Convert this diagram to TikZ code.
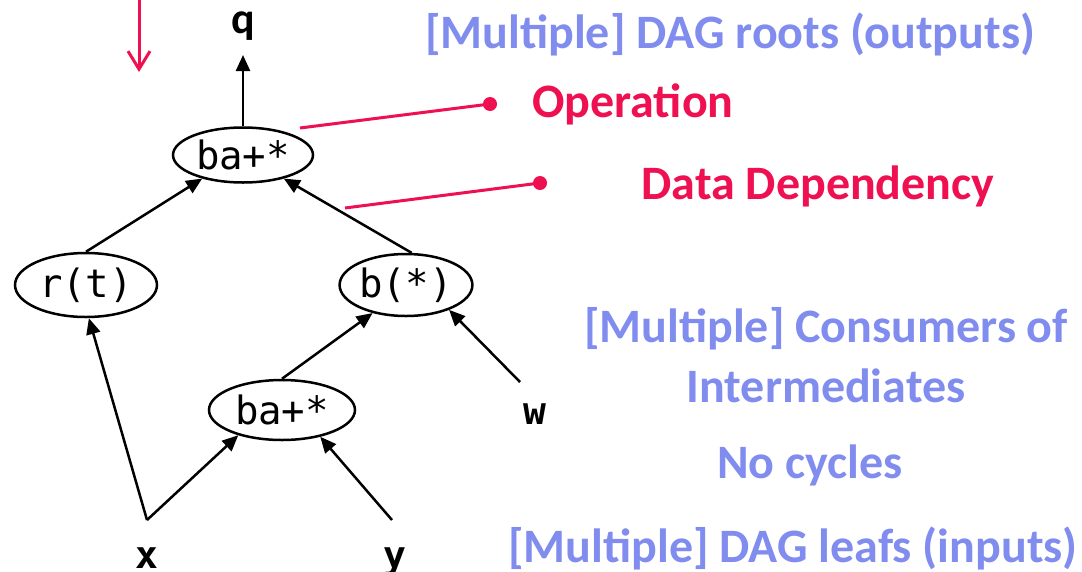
\documentclass[tikz,border=0pt]{standalone}
\usepackage{fontspec}
\setmainfont{Carlito}
\newfontfamily\opfont{DejaVu Sans Mono}
\usepackage{tikz}
\usetikzlibrary{arrows.meta,shapes.geometric}
\definecolor{hotred}{RGB}{238,16,80}
\definecolor{softblue}{RGB}{128,140,238}

\begin{document}
\begin{tikzpicture}[x=1pt, y=-1pt, line width=2.5pt, >={Triangle[length=16pt,width=14pt]},
  op/.style={draw, ellipse, inner sep=0pt, font=\opfont\fontsize{39}{39}\selectfont},
  leaf/.style={font=\opfont\bfseries\fontsize{38}{38}\selectfont},
  note/.style={font=\bfseries\fontsize{48}{48}\selectfont, text=softblue},
  cmt/.style={font=\bfseries\fontsize{48}{48}\selectfont, text=hotred},
  pin/.style={draw=hotred, line width=3pt}]
\useasboundingbox (0,0) rectangle (1082,571);
\node[op, minimum width=140pt, minimum height=55pt] (top)  at (243,155) {ba+*};
\node[op, minimum width=142pt, minimum height=64pt] (rt)   at (86,285)  {r(t)};
\node[op, minimum width=116pt, minimum height=62pt] (bs)   at (406,285) {b(*)};
\node[op, minimum width=146pt, minimum height=60pt] (low)  at (282,410) {ba+*};
\node[font=\bfseries\fontsize{44}{44}\selectfont] (q) at (243,26) {q};
\coordinate (qend) at (243,55);
\coordinate (xj) at (147,520);
\coordinate (yj) at (392,520);
\coordinate (wj) at (520,382);
\node[leaf] (x) at (147,558) {x};
\node[leaf] (y) at (395,562) {y};
\node[leaf] (w) at (535,414) {w};
% edges of the DAG
\draw[->] (top.north) -- (qend);
\draw[->] (rt.north) -- (top.210);
\draw[->] (bs.80) -- (top.-30);
\draw[->] (low.north) -- (bs.220);
\draw[->] (wj) -- (bs.-30);
\draw[->] (xj) -- (rt.-85);
\draw[->] (xj) -- (low.210);
\draw[->] (yj) -- (low.-35);
% red marker arrow
\coordinate (mtop) at (139,0);
\coordinate (mbot) at (139,72);
\draw[hotred, line width=3pt, -{Straight Barb[length=18pt,width=22pt]}] (mtop) -- (mbot);
% callouts
\coordinate (opdot) at (490,104);
\coordinate (dddot) at (540,183);
\coordinate (opfrom) at (300,128);
\coordinate (ddfrom) at (345,208);
\draw[pin] (opfrom) -- (opdot);
\draw[pin] (ddfrom) -- (dddot);
\fill[hotred] (opdot) circle (7pt);
\fill[hotred] (dddot) circle (7pt);
\node[cmt] (opn) at (633,104) {Operation};
\node[cmt] (dep) at (818,186) {Data Dependency};
\node[note] (roots) at (730,34) {[Multiple] DAG roots (outputs)};
\node[note] (cons) at (826,329) {[Multiple] Consumers of};
\node[note] (inter) at (826,386) {Intermediates};
\node[note] (nocyc) at (810,465) {No cycles};
\node[note] (leafs) at (793,548) {[Multiple] DAG leafs (inputs)};
\end{tikzpicture}
\end{document}
